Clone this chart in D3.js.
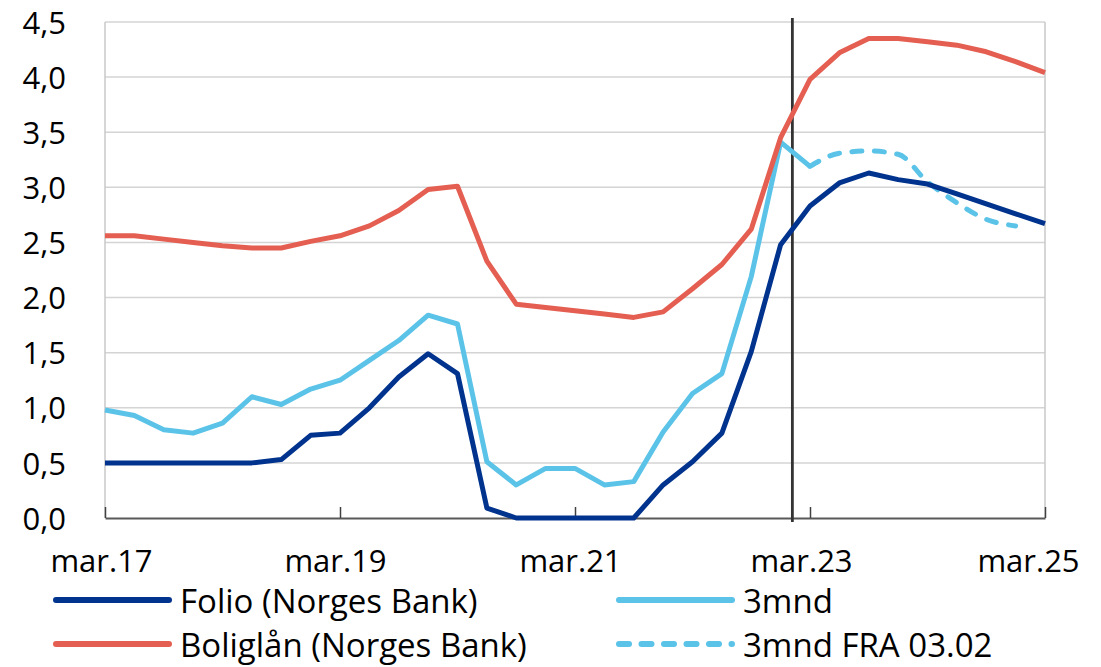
<!DOCTYPE html>
<html>
<head>
<meta charset="utf-8">
<script src="https://cdn.jsdelivr.net/npm/d3@7"></script>
<style>
html,body{margin:0;padding:0;background:#fff;}
svg{display:block;font-family:"Open Sans","Noto Sans",sans-serif;}
</style>
</head>
<body>
<svg id="chart" width="1101" height="667"></svg>
<script>
// ---- data (quarterly, index 0 = mar.17, 32 = mar.25) ----
const xTickIndex = [0, 8, 16, 24, 32];
const xTickLabels = ["mar.17", "mar.19", "mar.21", "mar.23", "mar.25"];
const yTicks = [0, 0.5, 1.0, 1.5, 2.0, 2.5, 3.0, 3.5, 4.0, 4.5];
const fraDateIndex = 23.4; // 03.02.2023

const folio = [0.50,0.50,0.50,0.50,0.50,0.50,0.53,0.75,0.77,1.00,1.28,1.49,1.31,0.09,0,0,0,0,0,0.30,0.51,0.77,1.51,2.48,2.83,3.04,3.13,3.07,3.03,2.94,2.85,2.76,2.67];
const boliglan = [2.56,2.56,2.53,2.50,2.47,2.45,2.45,2.51,2.56,2.65,2.79,2.98,3.01,2.33,1.94,1.91,1.88,1.85,1.82,1.87,2.08,2.30,2.62,3.45,3.98,4.22,4.35,4.35,4.32,4.29,4.23,4.14,4.04];
const mnd3 = [0.98,0.93,0.80,0.77,0.86,1.10,1.03,1.17,1.25,1.43,1.61,1.84,1.76,0.51,0.30,0.45,0.45,0.30,0.33,0.78,1.13,1.31,2.19,3.41,3.19];
const fraStart = 24;
const fra = [3.19,3.31,3.33,3.30,3.05,2.86,2.71,2.65];

const seriesNames = ["Folio (Norges Bank)", "3mnd", "Boliglån (Norges Bank)", "3mnd FRA 03.02"];
const colors = {folio:"#00338D", mnd3:"#5BC3E8", bolig:"#E45F51"};

// ---- layout ----
const svg = d3.select("#chart");
const L = 105, R = 1045, T = 22, B = 518;
const x = d3.scaleLinear().domain([0, 32]).range([L, R]);
const y = d3.scaleLinear().domain([0, 4.5]).range([B, T]);
const fmt = d => d3.format(".1f")(d).replace(".", ",");

// grid
svg.append("g").selectAll("line").data(yTicks.filter(d => d > 0)).join("line")
  .attr("x1", L).attr("x2", R).attr("y1", d => y(d)).attr("y2", d => y(d))
  .attr("stroke", "#d4d4d4").attr("stroke-width", 1.5);
// left & right frame
svg.append("line").attr("x1", L).attr("x2", L).attr("y1", T).attr("y2", B).attr("stroke", "#c8c8c8").attr("stroke-width", 1.5);
svg.append("line").attr("x1", R).attr("x2", R).attr("y1", T).attr("y2", B).attr("stroke", "#c8c8c8").attr("stroke-width", 1.5);

// y axis labels
const yAxis = d3.axisLeft(y).tickValues(yTicks).tickFormat(fmt).tickSize(0).tickPadding(0);
const gy = svg.append("g").attr("transform", `translate(66,0)`).call(yAxis);
gy.select(".domain").remove();
gy.selectAll("text").attr("font-size", 31).attr("fill", "#000").attr("font-family", "Open Sans").attr("dy", "0.36em");

// x axis
const xAxis = d3.axisBottom(x).tickValues(xTickIndex).tickFormat((d, i) => xTickLabels[i]).tickSize(-11).tickSizeOuter(0).tickPadding(0);
const gx = svg.append("g").attr("transform", `translate(0,${B})`).call(xAxis);
gx.select(".domain").attr("stroke", "#595959").attr("stroke-width", 2);
gx.selectAll(".tick line").attr("stroke", "#404040").attr("stroke-width", 1.5);
const xShift = [-4, -5, -5, -9, -17];
gx.selectAll(".tick text").attr("font-size", 31).attr("fill", "#000").attr("font-family", "Open Sans")
  .attr("y", 54).attr("dy", 0).attr("dx", (d, i) => xShift[i]);

// vertical marker line
svg.append("line").attr("x1", x(fraDateIndex)).attr("x2", x(fraDateIndex)).attr("y1", T - 4).attr("y2", B + 4)
  .attr("stroke", "#333").attr("stroke-width", 2.8);

// lines
const line = d3.line().x(d => x(d[0])).y(d => y(d[1]));
const pts = (arr, start = 0) => arr.map((v, i) => [start + i, v]);

svg.append("path").datum(pts(fra, fraStart)).attr("d", line.curve(d3.curveMonotoneX))
  .attr("fill", "none").attr("stroke", colors.mnd3).attr("stroke-width", 5)
  .attr("stroke-dasharray", "10,12.5").attr("stroke-linecap", "round");
line.curve(d3.curveLinear);
svg.append("path").datum(pts(folio)).attr("d", line)
  .attr("fill", "none").attr("stroke", colors.folio).attr("stroke-width", 5).attr("stroke-linejoin", "round");
svg.append("path").datum(pts(mnd3)).attr("d", line)
  .attr("fill", "none").attr("stroke", colors.mnd3).attr("stroke-width", 5).attr("stroke-linejoin", "round");
svg.append("path").datum(pts(boliglan)).attr("d", line)
  .attr("fill", "none").attr("stroke", colors.bolig).attr("stroke-width", 5).attr("stroke-linejoin", "round");

// legend
const legendItems = [
  {name: seriesNames[0], color: colors.folio, dash: null, lx: 56, ly: 600},
  {name: seriesNames[1], color: colors.mnd3, dash: null, lx: 619, ly: 600},
  {name: seriesNames[2], color: colors.bolig, dash: null, lx: 56, ly: 644},
  {name: seriesNames[3], color: colors.mnd3, dash: "10,12.5", lx: 619, ly: 644}
];
const lg = svg.append("g").selectAll("g").data(legendItems).join("g");
lg.append("line").attr("x1", d => d.lx).attr("x2", d => d.lx + 113).attr("y1", d => d.ly).attr("y2", d => d.ly)
  .attr("stroke", d => d.color).attr("stroke-width", 6).attr("stroke-linecap", "round")
  .attr("stroke-dasharray", d => d.dash);
lg.append("text").attr("x", d => d.lx + 124).attr("y", d => d.ly + 13)
  .attr("font-size", 33).attr("font-family", "Open Sans").attr("fill", "#000").text(d => d.name);
</script>
</body>
</html>
